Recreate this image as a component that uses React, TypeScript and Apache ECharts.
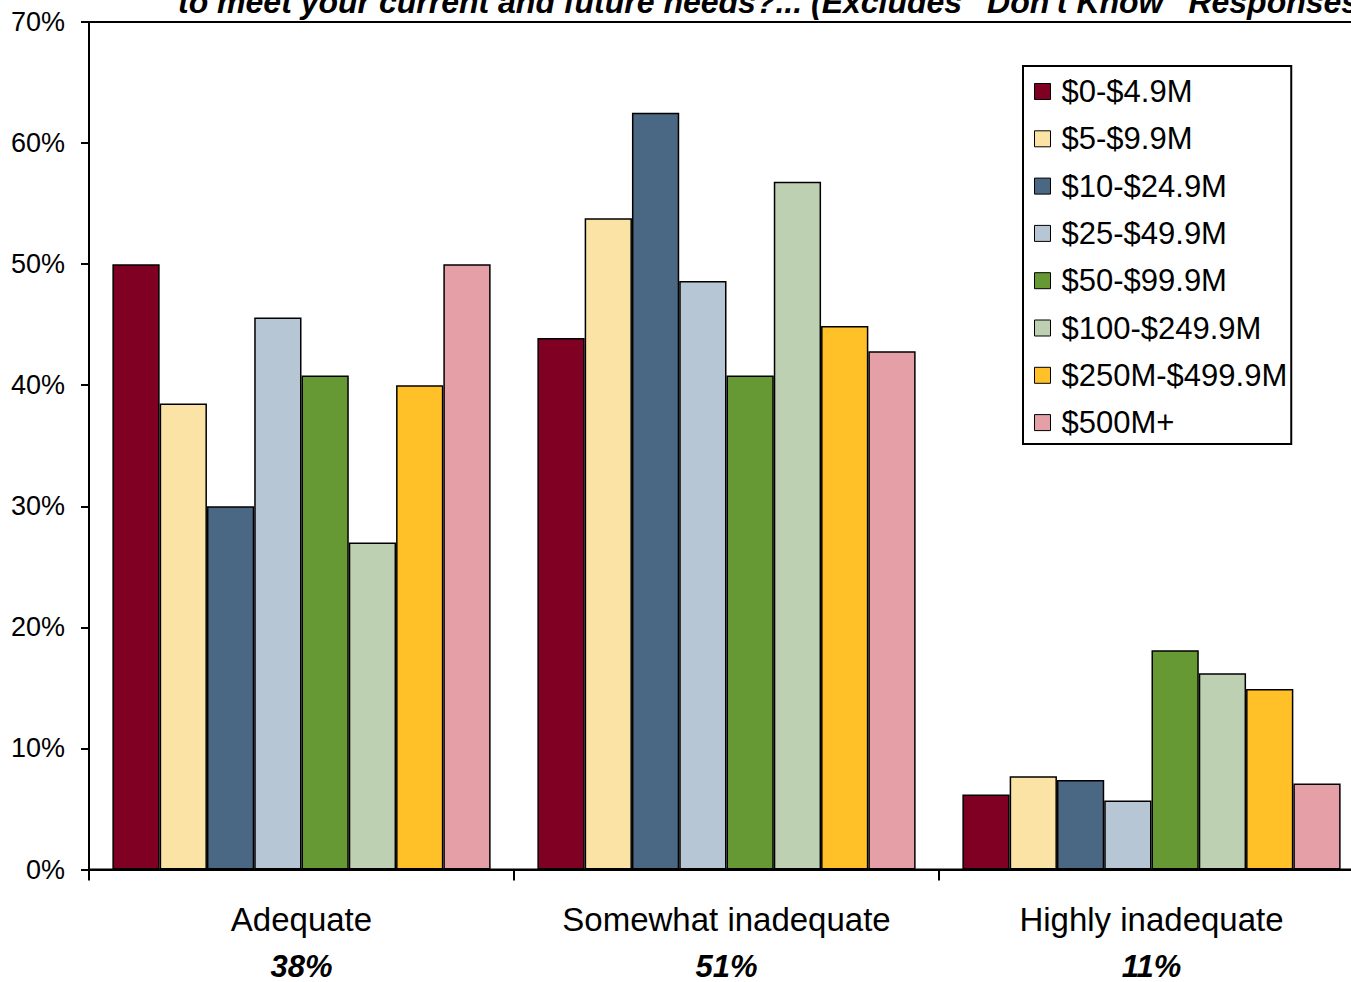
import React, { useEffect, useRef } from "react";
import * as echarts from "echarts";

const categories = ["Adequate", "Somewhat inadequate", "Highly inadequate"];
const categoryShares = ["38%", "51%", "11%"];
const seriesNames = [
  "$0-$4.9M",
  "$5-$9.9M",
  "$10-$24.9M",
  "$25-$49.9M",
  "$50-$99.9M",
  "$100-$249.9M",
  "$250M-$499.9M",
  "$500M+",
];
const s0to5 = [50, 43.9, 6.2];
const s5to10 = [38.5, 53.8, 7.7];
const s10to25 = [30, 62.5, 7.4];
const s25to50 = [45.6, 48.6, 5.7];
const s50to100 = [40.8, 40.8, 18.1];
const s100to250 = [27, 56.8, 16.2];
const s250to500 = [40, 44.9, 14.9];
const s500plus = [50, 42.8, 7.1];
const seriesValues = [s0to5, s5to10, s10to25, s25to50, s50to100, s100to250, s250to500, s500plus];
const colors = ["#7F0022", "#FAE3A5", "#4A6784", "#B7C6D5", "#669933", "#BED0B2", "#FFC127", "#E59FA7"];
const titleText = "to meet your current and future needs?... (Excludes \u201CDon't Know\u201D Responses)";

const FONT = "'Liberation Sans', Arial, sans-serif";

export default function App() {
  const ref = useRef<HTMLDivElement>(null);
  useEffect(() => {
    if (!ref.current) return;
    const chart = echarts.init(ref.current, null, { renderer: "svg" });
    chart.setOption({
      animation: false,
      backgroundColor: "#fff",
      textStyle: { fontFamily: FONT },
      graphic: [
        {
          type: "text",
          left: 178,
          top: -14,
          style: {
            text: titleText,
            font: `italic bold 32px ${FONT}`,
            fill: "#000",
          },
        },
      ],
      legend: {
        orient: "vertical",
        left: 1023,
        top: 66,
        itemWidth: 16,
        itemHeight: 16,
        itemGap: 16.3,
        padding: [10, 4, 6, 11],
        borderColor: "#000",
        borderWidth: 2,
        backgroundColor: "#fff",
        icon: "rect",
        itemStyle: { borderColor: "#000", borderWidth: 1 },
        textStyle: { fontFamily: FONT, fontSize: 31, color: "#000", padding: [0, 0, 0, 6] },
        data: seriesNames,
      },
      grid: {
        left: 89,
        right: 1,
        top: 22,
        bottom: 111,
        show: true,
        borderColor: "#000",
        borderWidth: 2,
        backgroundColor: "transparent",
      },
      xAxis: {
        type: "category",
        data: categories,
        axisLine: { lineStyle: { color: "#000", width: 2 } },
        axisTick: { show: true, length: 11, lineStyle: { color: "#000", width: 2 } },
        axisLabel: {
          margin: 17,
          interval: 0,
          formatter: (v: string, i: number) => `{a|${v}}\n{b|${categoryShares[i]}}`,
          rich: {
            a: { fontFamily: FONT, fontSize: 33, color: "#000", lineHeight: 66 },
            b: { fontFamily: FONT, fontSize: 31, fontWeight: "bold", fontStyle: "italic", color: "#000", lineHeight: 28 },
          },
        },
      },
      yAxis: {
        type: "value",
        min: 0,
        max: 70,
        interval: 10,
        splitLine: { show: false },
        axisLine: { show: true, lineStyle: { color: "#000", width: 2 } },
        axisTick: { show: true, length: 8, lineStyle: { color: "#000", width: 2 } },
        axisLabel: {
          formatter: "{value}%",
          fontFamily: FONT,
          fontSize: 27,
          color: "#000",
          margin: 24,
        },
      },
      series: seriesNames.map((name, i) => ({
        name,
        type: "bar",
        data: seriesValues[i],
        barGap: "0%",
        barCategoryGap: "11%",
        itemStyle: { color: colors[i], borderColor: "#000", borderWidth: 1.5 },
      })),
    });
    return () => chart.dispose();
  }, []);
  return (
    <div style={{ position: "absolute", left: 0, top: 0, width: 1351, height: 982, overflow: "hidden" }}>
      <div ref={ref} style={{ position: "absolute", left: 0, top: 0, width: 1365, height: 982 }} />
    </div>
  );
}
